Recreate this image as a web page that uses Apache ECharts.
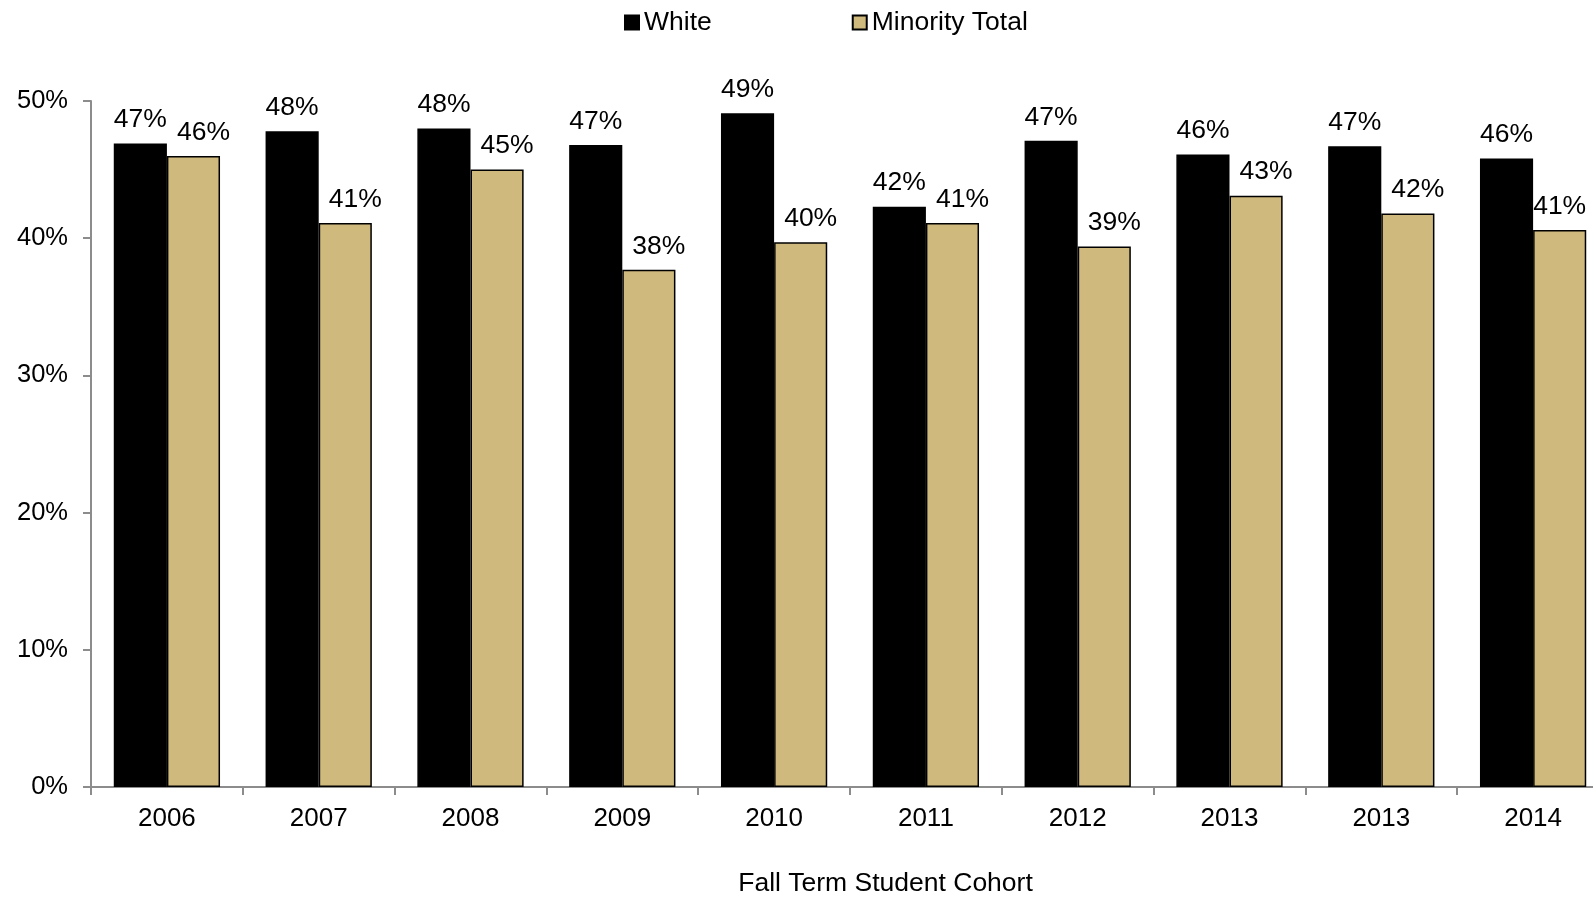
<!DOCTYPE html>
<html><head><meta charset="utf-8">
<script src="https://cdn.jsdelivr.net/npm/echarts@6/dist/echarts.min.js"></script>
<style>html,body{margin:0;padding:0;background:#fff}#c{width:1593px;height:898px}</style>
</head><body><div id="c"></div>
<script>
const categories = ['2006','2007','2008','2009','2010','2011','2012','2013','2013','2014'];
const whiteValues = [46.9, 47.8, 48.0, 46.8, 49.1, 42.3, 47.1, 46.1, 46.7, 45.8];
const minorityValues = [46.0, 41.1, 45.0, 37.7, 39.7, 41.1, 39.4, 43.1, 41.8, 40.6];
const yTicks = [0, 10, 20, 30, 40, 50];

const FONT = 'Liberation Sans, Arial, sans-serif';
const chart = echarts.init(document.getElementById('c'));
const fmt = p => Math.round(p.value) + '%';
const minorityData = minorityValues.map((v, i) =>
  i === minorityValues.length - 1 ? {value: v, label: {offset: [0, 0]}} : v);
chart.setOption({
  animation:false,
  legend:{top:4, left:619, itemGap:140, itemWidth:14, itemHeight:14,
    textStyle:{fontFamily:FONT, fontSize:26.5, color:'#000'},
    data:[{name:'White', icon:'rect'},{name:'Minority Total', icon:'rect'}]},
  grid:{left:91, right:-16, top:101, bottom:111, containLabel:false, outerBoundsMode:'none'},
  xAxis:{type:'category', data:categories,
    name:'Fall Term Student Cohort', nameLocation:'middle', nameGap:83,
    nameTextStyle:{fontFamily:FONT, fontSize:26.5, color:'#000', padding:[0,0,0,71]},
    axisLine:{lineStyle:{color:'#8c8c8c', width:2}},
    axisTick:{show:true, length:8, lineStyle:{color:'#8c8c8c', width:2}},
    axisLabel:{fontFamily:FONT, fontSize:26, color:'#000', margin:19}},
  yAxis:{type:'value', min:yTicks[0], max:yTicks[yTicks.length-1], interval:10,
    axisLine:{show:true, lineStyle:{color:'#8c8c8c', width:2}},
    axisTick:{show:true, length:8, lineStyle:{color:'#8c8c8c', width:2}},
    splitLine:{show:false},
    axisLabel:{fontFamily:FONT, fontSize:25.5, color:'#000', margin:23, formatter: v => v + '%'}},
  series:[
    {name:'White', type:'bar', data:whiteValues, barGap:'0%', barCategoryGap:'30%',
      itemStyle:{color:'#000', borderColor:'#000', borderWidth:1.5},
      label:{show:true, position:'top', distance:10, color:'#000', fontFamily:FONT, fontSize:26.5, formatter:fmt}},
    {name:'Minority Total', type:'bar', data:minorityData,
      itemStyle:{color:'#CFB97D', borderColor:'#000', borderWidth:1.5},
      label:{show:true, position:'top', distance:10, offset:[10,0], color:'#000', fontFamily:FONT, fontSize:26.5, formatter:fmt}}
  ]
});
</script></body></html>
